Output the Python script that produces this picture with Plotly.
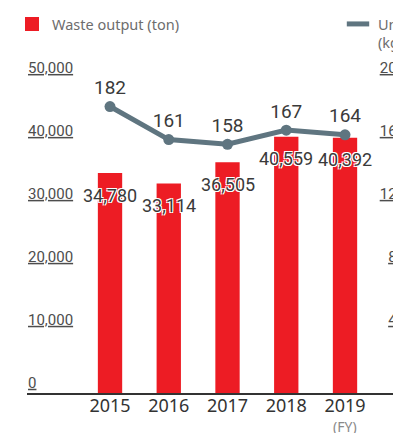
import plotly.graph_objects as go

years = ["2015", "2016", "2017", "2018", "2019"]
fy_note = "(FY)"
waste_ton = [34780, 33114, 36505, 40559, 40392]
unit_kg_per_ton = [182, 161, 158, 167, 164]
left_ticks = [0, 10000, 20000, 30000, 40000, 50000]
right_ticks = [0, 40, 80, 120, 160, 200]

RED = "#ed1c24"
SLATE = "#5f7580"
NUM_FONT = "Roboto, sans-serif"
HALO = "white 1px 1px 0px, white -1px -1px 0px, white 1px -1px 0px, white -1px 1px 0px"

# the page body adds an 8px margin, so the figure is drawn 8px smaller
W, H = 393, 425

fig = go.Figure()

fig.add_trace(go.Bar(
    x=years, y=waste_ton, name="Waste output (ton)",
    marker=dict(color=RED, line=dict(width=2, color=RED)),
    width=0.38, legend="legend", showlegend=True,
))

fig.add_trace(go.Scatter(
    x=years, y=unit_kg_per_ton, yaxis="y2", mode="lines+markers+text",
    line=dict(color=SLATE, width=5), marker=dict(size=11, color=SLATE),
    text=[str(v) for v in unit_kg_per_ton], textposition="top center",
    textfont=dict(family=NUM_FONT, size=19, color="#3a3a3a", shadow=HALO),
    showlegend=False, cliponaxis=False,
))

# legend entry for the line (own legend box at top right)
fig.add_trace(go.Scatter(
    x=[None], y=[None], yaxis="y2", mode="markers",
    marker=dict(symbol="line-ew-open", size=16, color=SLATE, line=dict(width=5, color=SLATE)),
    name="Unit waste output<br>(kg/ton)", legend="legend2", showlegend=True,
))

# bar value labels, just below the top of each bar
for i, v in enumerate(waste_ton):
    fig.add_annotation(
        x=i, y=v, xref="x", yref="y", text=f"{v:,}", showarrow=False, yshift=-21,
        font=dict(family=NUM_FONT, size=18, color="#3a3a3a", shadow=HALO),
    )

# "(FY)" under the last year
fig.add_annotation(
    x=len(years) - 1, y=0, xref="x", yref="paper", text=fy_note, showarrow=False,
    yanchor="middle", yshift=-33,
    font=dict(family="Noto Sans, sans-serif", size=14, color="#8a8a8a"),
)

fig.update_layout(
    width=W, height=H,
    margin=dict(l=19, r=0, t=45, b=40, autoexpand=False),
    paper_bgcolor="white", plot_bgcolor="white",
    xaxis=dict(
        type="category", range=[-1.413, 4.953],
        tickfont=dict(family="Noto Sans, sans-serif", size=18, color="#333333"),
        ticklabelstandoff=-4, tickangle=0,
        showline=True, linecolor="#333333", linewidth=1.5,
        ticks="", showgrid=False, zeroline=False, automargin=False,
    ),
    yaxis=dict(
        range=[0, 54000], tickvals=left_ticks,
        ticktext=[f"{t:,}" for t in left_ticks],
        ticklabelposition="inside top", ticks="", automargin=False, ticklabelstandoff=-2,
        tickfont=dict(family=NUM_FONT, size=15, color="#4d4d4d", lineposition="under"),
        showgrid=False, zeroline=False, showline=False,
    ),
    yaxis2=dict(
        range=[0, 216], tickvals=right_ticks, overlaying="y", side="right",
        ticklabelposition="inside top", ticks="", ticklabelstandoff=-7, automargin=False,
        tickfont=dict(family=NUM_FONT, size=15, color="#4d4d4d", lineposition="under"),
        showgrid=False, zeroline=False, showline=False,
    ),
    legend=dict(
        xref="container", yref="container", x=4 / W, y=1.008,
        xanchor="left", yanchor="top", bgcolor="rgba(0,0,0,0)",
        font=dict(family="Noto Sans, sans-serif", size=14.5, color="#6d6d6d"),
    ),
    legend2=dict(
        xref="container", yref="container", x=330 / W, y=1.008,
        xanchor="left", yanchor="top", bgcolor="rgba(0,0,0,0)", valign="top",
        font=dict(family="Noto Sans, sans-serif", size=14.5, color="#6d6d6d"),
    ),
)

fig.write_html("out.html")
